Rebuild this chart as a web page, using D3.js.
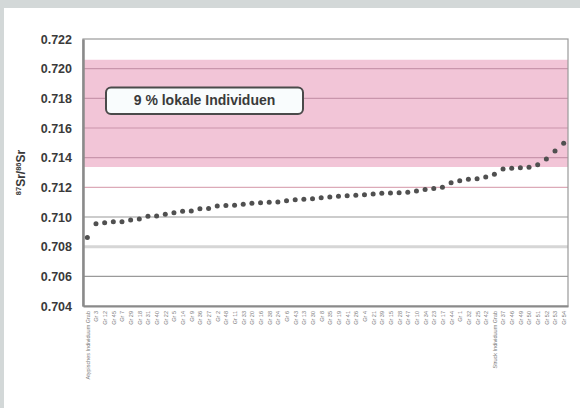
<!DOCTYPE html>
<html>
<head>
<meta charset="utf-8">
<script src="https://cdn.jsdelivr.net/npm/d3@7"></script>
<style>
	html, body { margin: 0; padding: 0; background: #d3d8d8; }
	svg { display: block; }
</style>
</head>
<body>
<div id="chartZone"></div>
<script>
// Probenbezeichnungen (x-Achse, kaum lesbar im Original)
var sampleLabels = [
	"Atypisches Individuum Grab", "Gr 3", "Gr 12", "Gr 45", "Gr 7", "Gr 29", "Gr 18", "Gr 31", "Gr 40", "Gr 22",
	"Gr 5", "Gr 14", "Gr 9", "Gr 36", "Gr 27", "Gr 2", "Gr 48", "Gr 11", "Gr 33", "Gr 20",
	"Gr 16", "Gr 38", "Gr 24", "Gr 6", "Gr 43", "Gr 13", "Gr 30", "Gr 8", "Gr 35", "Gr 19",
	"Gr 41", "Gr 26", "Gr 4", "Gr 21", "Gr 39", "Gr 15", "Gr 28", "Gr 47", "Gr 10", "Gr 34",
	"Gr 23", "Gr 17", "Gr 44", "Gr 1", "Gr 32", "Gr 25", "Gr 42", "Struck Individuum Grab", "Gr 37", "Gr 46",
	"Gr 49", "Gr 50", "Gr 51", "Gr 52", "Gr 53", "Gr 54"
];
// 87Sr/86Sr Werte, aufsteigend sortiert
var srValues = [
	0.70861, 0.70955, 0.70962, 0.70968, 0.70968, 0.70980, 0.70987, 0.71005, 0.71007, 0.71018,
	0.71029, 0.71038, 0.71040, 0.71056, 0.71058, 0.71074, 0.71078, 0.71080, 0.71086, 0.71092,
	0.71096, 0.71099, 0.71101, 0.71110, 0.71117, 0.71119, 0.71123, 0.71130, 0.71135, 0.71140,
	0.71144, 0.71146, 0.71150, 0.71155, 0.71160, 0.71162, 0.71164, 0.71167, 0.71175, 0.71185,
	0.71192, 0.71200, 0.71231, 0.71245, 0.71254, 0.71258, 0.71270, 0.71288, 0.71324, 0.71328,
	0.71332, 0.71335, 0.71353, 0.71391, 0.71445, 0.71497
];
var yTicks = [0.704, 0.706, 0.708, 0.710, 0.712, 0.714, 0.716, 0.718, 0.720, 0.722];
// lokaler Bereich (rosa Band)
var localRange = [0.71337, 0.72060];
var boxText = "9 % lokale Individuen";

(function() {
	var width = 580, height = 408;
	var plot = { left: 83, right: 568, top: 39, bottom: 306 };
	var font = "Liberation Sans, Arial, sans-serif";

	var svg = d3.select("#chartZone").append("svg")
		.attr("width", width)
		.attr("height", height);

	// weisser Hintergrund
	svg.append("rect").attr("x", 4).attr("y", 8)
		.attr("width", width - 4).attr("height", height - 8)
		.attr("fill", "#ffffff");

	var x = d3.scalePoint().domain(d3.range(sampleLabels.length))
		.range([plot.left, plot.right]).padding(0.5);
	var y = d3.scaleLinear().domain([yTicks[0], yTicks[yTicks.length - 1]])
		.range([plot.bottom, plot.top]);

	// rosa Band
	svg.append("rect")
		.attr("x", plot.left)
		.attr("y", y(localRange[1]))
		.attr("width", plot.right - plot.left)
		.attr("height", y(localRange[0]) - y(localRange[1]))
		.attr("fill", "#f2c5d7");

	// Gitterlinien
	var gridColor = function(t) {
		if (t >= localRange[0] && t <= localRange[1]) return "#c996ac";
		if (Math.abs(t - 0.712) < 1e-6) return "#dcaab8";
		if (Math.abs(t - 0.708) < 1e-6) return "#d6d6d6";
		return "#9a9a9a";
	};
	svg.append("g").selectAll("line")
		.data(yTicks.slice(1, -1))
		.join("line")
		.attr("x1", plot.left).attr("x2", plot.right)
		.attr("y1", function(d) { return y(d); })
		.attr("y2", function(d) { return y(d); })
		.attr("stroke", gridColor)
		.attr("stroke-width", function(d) { return Math.abs(d - 0.708) < 1e-6 ? 3 : 1.2; });

	// Rahmen
	svg.append("rect")
		.attr("x", plot.left).attr("y", plot.top)
		.attr("width", plot.right - plot.left).attr("height", plot.bottom - plot.top)
		.attr("fill", "none").attr("stroke", "#9a9a9a").attr("stroke-width", 1.2);

	// y-Achse
	var yAxis = d3.axisLeft(y).tickValues(yTicks).tickSize(0).tickPadding(11)
		.tickFormat(d3.format(".3f"));
	var gy = svg.append("g").attr("transform", "translate(" + plot.left + ",0)").call(yAxis);
	gy.select(".domain").attr("stroke", "#8a8a8a").attr("stroke-width", 2.5);
	gy.selectAll("text")
		.attr("font-family", font)
		.attr("font-weight", "bold")
		.attr("font-size", 12.5)
		.attr("fill", "#3a3a3a");

	// x-Achse
	var xAxis = d3.axisBottom(x).tickSize(0).tickPadding(0)
		.tickFormat(function(i) { return sampleLabels[i]; });
	var gx = svg.append("g").attr("transform", "translate(0," + plot.bottom + ")").call(xAxis);
	gx.select(".domain").attr("stroke", "#8a8a8a").attr("stroke-width", 2);
	gx.selectAll("text")
		.attr("font-family", font)
		.attr("font-size", 5.5)
		.attr("fill", "#7a7a7a")
		.attr("text-anchor", "end")
		.attr("dy", "0.35em")
		.attr("transform", "translate(0,5) rotate(-90)")
		.attr("x", 0).attr("y", 0);

	// Achsentitel 87Sr/86Sr
	var title = svg.append("text")
		.attr("transform", "translate(25," + ((plot.top + plot.bottom) / 2) + ") rotate(-90)")
		.attr("text-anchor", "middle")
		.attr("font-family", font)
		.attr("font-weight", "bold")
		.attr("font-size", 12)
		.attr("fill", "#3a3a3a");
	title.append("tspan").attr("font-size", 7.5).attr("dy", -4).text("87");
	title.append("tspan").attr("dy", 4).text("Sr/");
	title.append("tspan").attr("font-size", 7.5).attr("dy", -4).text("86");
	title.append("tspan").attr("dy", 4).text("Sr");

	// Textbox
	var box = svg.append("g");
	box.append("rect")
		.attr("x", 106).attr("y", 87.5)
		.attr("width", 197).attr("height", 26.5)
		.attr("rx", 5).attr("ry", 5)
		.attr("fill", "#f9fcfd")
		.attr("stroke", "#4a4a4a").attr("stroke-width", 2);
	box.append("text")
		.attr("x", 204.5).attr("y", 101)
		.attr("text-anchor", "middle")
		.attr("dominant-baseline", "middle")
		.attr("font-family", font)
		.attr("font-weight", "bold")
		.attr("font-size", 14)
		.attr("fill", "#3a3a3a")
		.text(boxText);

	// Messpunkte
	svg.append("g").selectAll("circle")
		.data(srValues)
		.join("circle")
		.attr("cx", function(d, i) { return x(i); })
		.attr("cy", function(d) { return y(d); })
		.attr("r", 2.5)
		.attr("fill", "#505050");
})();
</script>
</body>
</html>
